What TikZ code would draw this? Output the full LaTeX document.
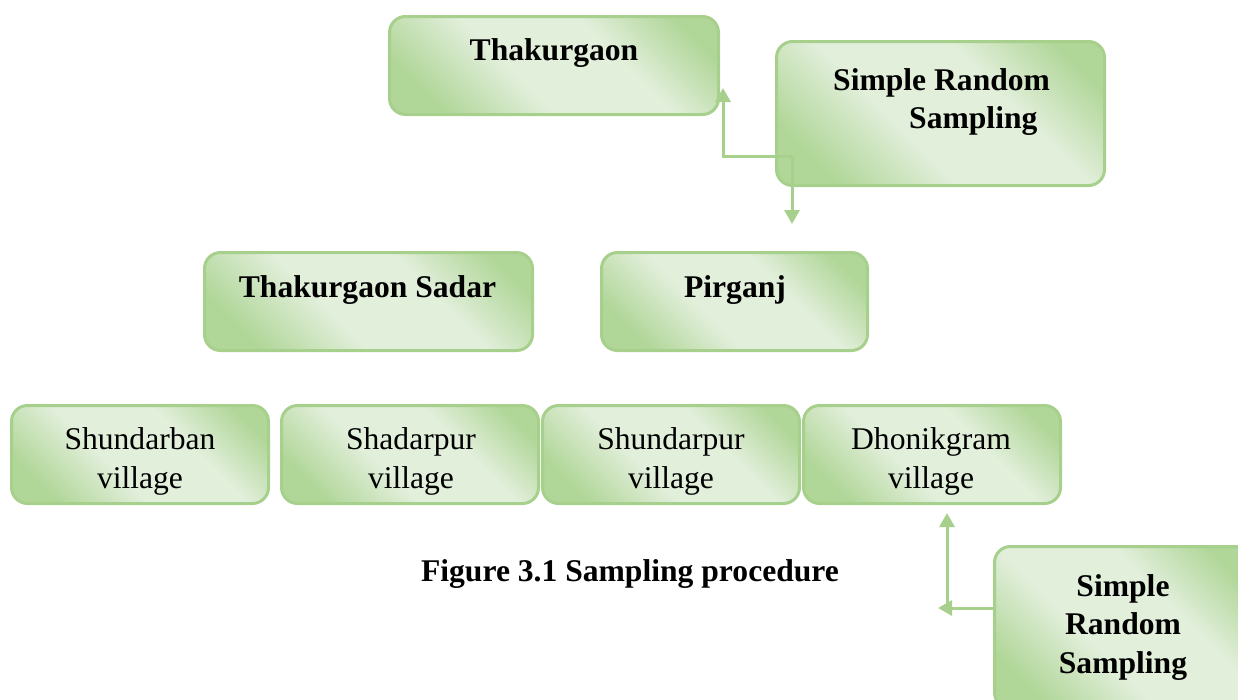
\documentclass[tikz,border=0pt]{standalone}
\usepackage{fontspec}
\setmainfont{Liberation Serif}
\usetikzlibrary{arrows.meta}
\definecolor{gborder}{RGB}{168,208,141}
\definecolor{gdark}{RGB}{176,214,152}
\definecolor{glight}{RGB}{226,239,219}
\pgfdeclarehorizontalshading{greenbox}{100bp}{color(0bp)=(gdark); color(24bp)=(gdark); color(42bp)=(glight); color(62bp)=(glight); color(78bp)=(gdark); color(100bp)=(gdark)}
\tikzset{
  box/.style={draw=gborder, line width=3pt, rounded corners=16pt, shade, shading=greenbox, shading angle=45, inner sep=0pt},
  txt/.style={font=\fontsize{31.6}{38.5}\selectfont, align=center, inner sep=0pt, anchor=base},
  btxt/.style={font=\fontsize{31.6}{38.5}\selectfont\bfseries, align=center, inner sep=0pt, anchor=base},
  arr/.style={draw=gborder, line width=3pt, -{Triangle[width=15pt,length=14pt]}}
}
\begin{document}
\begin{tikzpicture}[x=1pt,y=-1pt]
\useasboundingbox (0,0) rectangle (1238,699);
\clip (0,0) rectangle (1238,699);
% boxes
\node[box, minimum width=329pt, minimum height=98pt] (thak) at (554,65.5) {};
\node[box, minimum width=328pt, minimum height=144pt] (srs1) at (940.5,113.5) {};
\node[box, minimum width=328pt, minimum height=98pt] (sadar) at (368.5,301.5) {};
\node[box, minimum width=266pt, minimum height=98pt] (pirganj) at (734.5,301.5) {};
\node[box, minimum width=257pt, minimum height=98pt] (v1) at (140,454.5) {};
\node[box, minimum width=257pt, minimum height=98pt] (v2) at (410,454.5) {};
\node[box, minimum width=257pt, minimum height=98pt] (v3) at (671,454.5) {};
\node[box, minimum width=257pt, minimum height=98pt] (v4) at (932,454.5) {};
\node[box, minimum width=257pt, minimum height=162pt] (srs2) at (1123,627.5) {};
% texts
\node[btxt] (thakt) at (554,60) {Thakurgaon};
\node[btxt, anchor=base west] (srs1a) at (833,90) {Simple Random};
\node[btxt, anchor=base west] (srs1b) at (909,128) {Sampling};
\node[btxt] (sadart) at (367.5,297) {Thakurgaon Sadar};
\node[btxt] (pirt) at (735,297) {Pirganj};
\node[txt] (v1t) at (140,488) {Shundarban\\village};
\node[txt] (v2t) at (411,488) {Shadarpur\\village};
\node[txt] (v3t) at (671,488) {Shundarpur\\village};
\node[txt] (v4t) at (931,488) {Dhonikgram\\village};
\node[btxt] (srs2t) at (1123,673) {Simple\\Random\\Sampling};
\node[btxt] (cap) at (630,581) {Figure 3.1 Sampling procedure};
% connectors
\coordinate (j1) at (792,156);
\coordinate (t1) at (723,88);
\coordinate (t2) at (792,224);
\draw[arr] (j1) -| (t1);
\draw[arr] (j1) -- (t2);
\coordinate (j2) at (srs2.west |- 0,608);
\coordinate (t3) at (938,608);
\coordinate (j3) at (947,608);
\coordinate (t4) at (947,513);
\draw[arr] (j3) -- (t4);
\draw[arr] (j2) -- (t3);
\end{tikzpicture}
\end{document}
